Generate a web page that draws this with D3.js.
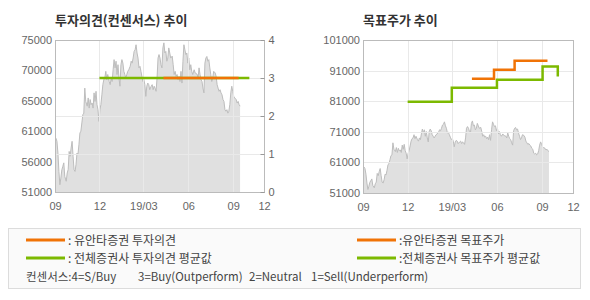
<!DOCTYPE html>
<html>
<head>
<meta charset="utf-8">
<script src="https://cdn.jsdelivr.net/npm/d3@7"></script>
<style>
  body { margin: 0; background: #fff; }
  svg text { font-family: "Liberation Sans", Arial, sans-serif; }
  svg .kr { font-family: "Noto Sans CJK KR", sans-serif; }
</style>
</head>
<body>
<div id="chart"></div>
<script>
// 주가 (일별, 그림에서 읽은 값)
var priceDates = [
  "2018-09-01","2018-09-03","2018-09-05","2018-09-07","2018-09-09","2018-09-11","2018-09-13","2018-09-15","2018-09-17","2018-09-19",
  "2018-09-21","2018-09-24","2018-09-26","2018-09-28","2018-09-30","2018-10-02","2018-10-04","2018-10-06","2018-10-08","2018-10-10",
  "2018-10-12","2018-10-14","2018-10-16","2018-10-18","2018-10-20","2018-10-22","2018-10-24","2018-10-26","2018-10-28","2018-10-30",
  "2018-11-01","2018-11-03","2018-11-06","2018-11-08","2018-11-10","2018-11-12","2018-11-14","2018-11-16","2018-11-18","2018-11-20",
  "2018-11-22","2018-11-24","2018-11-26","2018-11-28","2018-11-30","2018-12-02","2018-12-04","2018-12-06","2018-12-08","2018-12-10",
  "2018-12-12","2018-12-14","2018-12-16","2018-12-18","2018-12-21","2018-12-23","2018-12-25","2018-12-27","2018-12-29","2018-12-31",
  "2019-01-02","2019-01-04","2019-01-06","2019-01-08","2019-01-10","2019-01-12","2019-01-14","2019-01-16","2019-01-18","2019-01-20",
  "2019-01-22","2019-01-24","2019-01-26","2019-01-28","2019-01-30","2019-02-02","2019-02-04","2019-02-06","2019-02-08","2019-02-10",
  "2019-02-12","2019-02-14","2019-02-16","2019-02-18","2019-02-20","2019-02-22","2019-02-24","2019-02-26","2019-02-28","2019-03-02",
  "2019-03-04","2019-03-06","2019-03-08","2019-03-10","2019-03-12","2019-03-14","2019-03-17","2019-03-19","2019-03-21","2019-03-23",
  "2019-03-25","2019-03-27","2019-03-29","2019-03-31","2019-04-02","2019-04-04","2019-04-06","2019-04-08","2019-04-10","2019-04-12",
  "2019-04-14","2019-04-16","2019-04-18","2019-04-20","2019-04-22","2019-04-24","2019-04-26","2019-04-29","2019-05-01","2019-05-03",
  "2019-05-05","2019-05-07","2019-05-09","2019-05-11","2019-05-13","2019-05-15","2019-05-17","2019-05-19","2019-05-21","2019-05-23",
  "2019-05-25","2019-05-27","2019-05-29","2019-05-31","2019-06-02","2019-06-04","2019-06-06","2019-06-08","2019-06-10","2019-06-13",
  "2019-06-15","2019-06-17","2019-06-19","2019-06-21","2019-06-23","2019-06-25","2019-06-27","2019-06-29","2019-07-01","2019-07-03",
  "2019-07-05","2019-07-07","2019-07-09","2019-07-11","2019-07-13","2019-07-15","2019-07-17","2019-07-19","2019-07-21","2019-07-23",
  "2019-07-26","2019-07-28","2019-07-30","2019-08-01","2019-08-03","2019-08-05","2019-08-07","2019-08-09","2019-08-11","2019-08-13",
  "2019-08-15","2019-08-17","2019-08-19","2019-08-21","2019-08-23","2019-08-25","2019-08-27","2019-08-29","2019-08-31","2019-09-02",
  "2019-09-04","2019-09-07","2019-09-09","2019-09-11","2019-09-13","2019-09-15"
];
var prices = [
  59500,59500,59000,57150,54250,52150,53200,54500,55050,55600,
  53450,52700,54000,54550,57400,56650,57950,59000,56650,54550,
  54250,55300,57150,56900,58450,60300,60600,61900,63200,63450,
  67400,65300,64550,65850,64250,65600,64800,65050,64250,66650,
  65300,66900,64800,64000,62150,64000,64800,66350,67950,68750,
  69000,70050,68750,69550,68450,67950,69000,68450,70300,71900,
  70600,71650,69550,71100,69000,67700,71100,71900,71350,70050,
  69550,69000,69550,70050,70300,70850,71650,71350,72150,73200,
  73450,74250,72950,72150,70600,70850,70050,69250,68450,68750,
  67950,66100,67700,68200,67950,67150,67700,67950,67150,67700,
  67400,66900,69000,72150,72700,72150,71100,70600,73750,74550,
  72950,73200,71650,72150,73750,72950,72150,72450,71100,69550,
  70050,69250,69550,68750,69250,68450,70050,68200,71650,74250,
  73450,72700,72950,71350,72150,70300,71100,70050,69550,70300,
  69800,69700,69600,69000,70600,69550,68750,68450,67400,66650,
  71350,72150,72400,71650,71900,70600,69550,68450,69000,70050,
  69800,69250,67950,67400,66900,67150,66650,66350,65600,65300,
  64000,63750,64000,63450,63750,64800,66650,67700,66900,66100,
  65850,65600,65050,65300,64800,64550
];

// 투자의견 (4=S/Buy ... 1=Sell)
var yuantaOpinionDates = ["2019-04-11", "2019-09-12"];
var yuantaOpinions = [3, 3];
var allOpinionDates = ["2018-12-01", "2019-10-04"];
var allOpinions = [3, 3];

// 목표주가
var yuantaTargetDates = ["2019-04-11", "2019-05-26", "2019-07-07", "2019-09-12"];
var yuantaTargets = [88300, 91300, 94200, 94200];
var allTargetDates = ["2018-12-01", "2019-03-01", "2019-06-01", "2019-09-02", "2019-10-03"];
var allTargets = [80800, 85400, 88000, 92300, 89100];

// 축 눈금
var xTickDates = ["2018-09-01", "2018-12-01", "2019-03-01", "2019-06-01", "2019-09-01", "2019-11-03"];
var xTickLabels = ["09", "12", "19/03", "06", "09", "12"];
var leftPriceTicks = [51000, 55800, 60600, 65400, 70200, 75000];
var opinionTicks = [0, 1, 2, 3, 4];
var rightPriceTicks = [51000, 61000, 71000, 81000, 91000, 101000];

var ORANGE = "#f07306", GREEN = "#7cb900";

var parse = d3.timeParse("%Y-%m-%d");
var priceData = priceDates.map(function(d, i) { return { date: parse(d), value: prices[i] }; });
function pairs(dates, vals) {
  return dates.map(function(d, i) { return { date: parse(d), value: vals[i] }; });
}

var svg = d3.select("#chart").append("svg")
    .attr("width", 590)
    .attr("height", 300);

var tickDates = xTickDates.map(parse);

function panel(left, right, top, bottom, yDomain, yTicks, yFormat, title) {
  var x = d3.scaleTime().domain([tickDates[0], tickDates[tickDates.length - 1]]).range([left, right]);
  var y = d3.scaleLinear().domain(yDomain).range([bottom, top]);

  svg.append("text").attr("class", "kr")
      .attr("x", left).attr("y", 25)
      .attr("font-size", 13).attr("font-weight", "bold").attr("fill", "#333")
      .text(title);

  // price area
  var area = d3.area().x(function(d) { return x(d.date); }).y0(bottom).y1(function(d) { return y(d.value); });
  var line = d3.line().x(function(d) { return x(d.date); }).y(function(d) { return y(d.value); });
  svg.append("path").datum(priceData).attr("d", area).attr("fill", "#e0e0e0");
  svg.append("path").datum(priceData).attr("d", line)
      .attr("fill", "none").attr("stroke", "#bdbdbd").attr("stroke-width", 1);

  // grid on top of area
  var grid = svg.append("g").attr("stroke", "#e9e9e9").attr("stroke-width", 1);
  grid.selectAll(".v").data(tickDates.slice(1, -1)).enter().append("line")
      .attr("x1", function(d) { return Math.round(x(d)) + 0.5; })
      .attr("x2", function(d) { return Math.round(x(d)) + 0.5; })
      .attr("y1", top).attr("y2", bottom);

  // frame
  svg.append("rect").attr("x", left + 0.5).attr("y", top + 0.5)
      .attr("width", right - left).attr("height", bottom - top)
      .attr("fill", "none").attr("stroke", "#bbb");

  var ax = svg.append("g").attr("transform", "translate(0," + bottom + ")")
      .call(d3.axisBottom(x).tickValues(tickDates).tickSize(0).tickPadding(10)
        .tickFormat(function(d, i) { return xTickLabels[i]; }));
  ax.select(".domain").remove();

  var ay = svg.append("g").attr("transform", "translate(" + left + ",0)")
      .call(d3.axisLeft(y).tickValues(yTicks).tickSize(0).tickPadding(3).tickFormat(yFormat));
  ay.select(".domain").remove();

  [ax, ay].forEach(function(a) {
    a.selectAll("text").attr("font-size", 11).attr("fill", "#666")
      .style("font-family", "'Liberation Sans', Arial, sans-serif");
  });

  return { x: x, y: y, grid: grid };
}

// ---- 투자의견(컨센서스) 추이 ----
var L = panel(55, 264, 40, 192, [51000, 75000], leftPriceTicks,
  function(d) { return Math.round(d / 1000) * 1000; }, "투자의견(컨센서스) 추이");

var yOp = d3.scaleLinear().domain([0, 4]).range([192, 40]);
L.grid.selectAll(".h").data([1, 2, 3]).enter().append("line")
    .attr("x1", 55).attr("x2", 264)
    .attr("y1", function(d) { return Math.round(yOp(d)) + 0.5; })
    .attr("y2", function(d) { return Math.round(yOp(d)) + 0.5; });

var aOp = svg.append("g").attr("transform", "translate(264.5,0)")
    .call(d3.axisRight(yOp).tickValues(opinionTicks).tickSize(-4).tickPadding(4)
      .tickFormat(d3.format("d")));
aOp.select(".domain").remove();
aOp.selectAll("line").attr("stroke", "#999");
aOp.selectAll("text").attr("font-size", 11).attr("fill", "#666")
    .style("font-family", "'Liberation Sans', Arial, sans-serif");

var stepL = d3.line().curve(d3.curveStepAfter)
    .x(function(d) { return L.x(d.date); }).y(function(d) { return yOp(d.value); });
svg.append("path").datum(pairs(allOpinionDates, allOpinions)).attr("d", stepL)
    .attr("fill", "none").attr("stroke", GREEN).attr("stroke-width", 2.5);
svg.append("path").datum(pairs(yuantaOpinionDates, yuantaOpinions)).attr("d", stepL)
    .attr("fill", "none").attr("stroke", ORANGE).attr("stroke-width", 2.5);

// ---- 목표주가 추이 ----
var R = panel(363, 573, 40, 193, [51000, 101000], rightPriceTicks,
  function(d) { return d; }, "목표주가 추이");

R.grid.selectAll(".h").data(rightPriceTicks.slice(1, -1)).enter().append("line")
    .attr("x1", 363).attr("x2", 573)
    .attr("y1", function(d) { return Math.round(R.y(d)) + 0.5; })
    .attr("y2", function(d) { return Math.round(R.y(d)) + 0.5; });

var stepR = d3.line().curve(d3.curveStepAfter)
    .x(function(d) { return R.x(d.date); }).y(function(d) { return R.y(d.value); });
svg.append("path").datum(pairs(allTargetDates, allTargets)).attr("d", stepR)
    .attr("fill", "none").attr("stroke", GREEN).attr("stroke-width", 2.5);
svg.append("path").datum(pairs(yuantaTargetDates, yuantaTargets)).attr("d", stepR)
    .attr("fill", "none").attr("stroke", ORANGE).attr("stroke-width", 2.5);

// ---- legend ----
var lg = svg.append("g");
lg.append("rect").attr("x", 8.5).attr("y", 228.5).attr("width", 572).attr("height", 60)
    .attr("fill", "#fafafa").attr("stroke", "#dcdcdc");

var legendItems = [
  { x: 26, y: 240, color: ORANGE, label: ": 유안타증권 투자의견" },
  { x: 26, y: 258, color: GREEN, label: ": 전체증권사 투자의견 평균값" },
  { x: 357, y: 240, color: ORANGE, label: ":유안타증권 목표주가" },
  { x: 357, y: 258, color: GREEN, label: ":전체증권사 목표주가 평균값" }
];
legendItems.forEach(function(d) {
  lg.append("line").attr("x1", d.x).attr("x2", d.x + 39).attr("y1", d.y).attr("y2", d.y)
      .attr("stroke", d.color).attr("stroke-width", 3);
  lg.append("text").attr("class", "kr").attr("x", d.x + 42).attr("y", d.y + 4.5)
      .attr("font-size", 12).attr("fill", "#444").text(d.label);
});

var footnote = [
  { x: 26, t: "컨센서스:4=S/Buy" },
  { x: 138, t: "3=Buy(Outperform)" },
  { x: 249, t: "2=Neutral" },
  { x: 311, t: "1=Sell(Underperform)" }
];
footnote.forEach(function(d) {
  lg.append("text").attr("class", "kr").attr("x", d.x).attr("y", 281)
      .attr("font-size", 11.5).attr("fill", "#444").text(d.t);
});
</script>
</body>
</html>
